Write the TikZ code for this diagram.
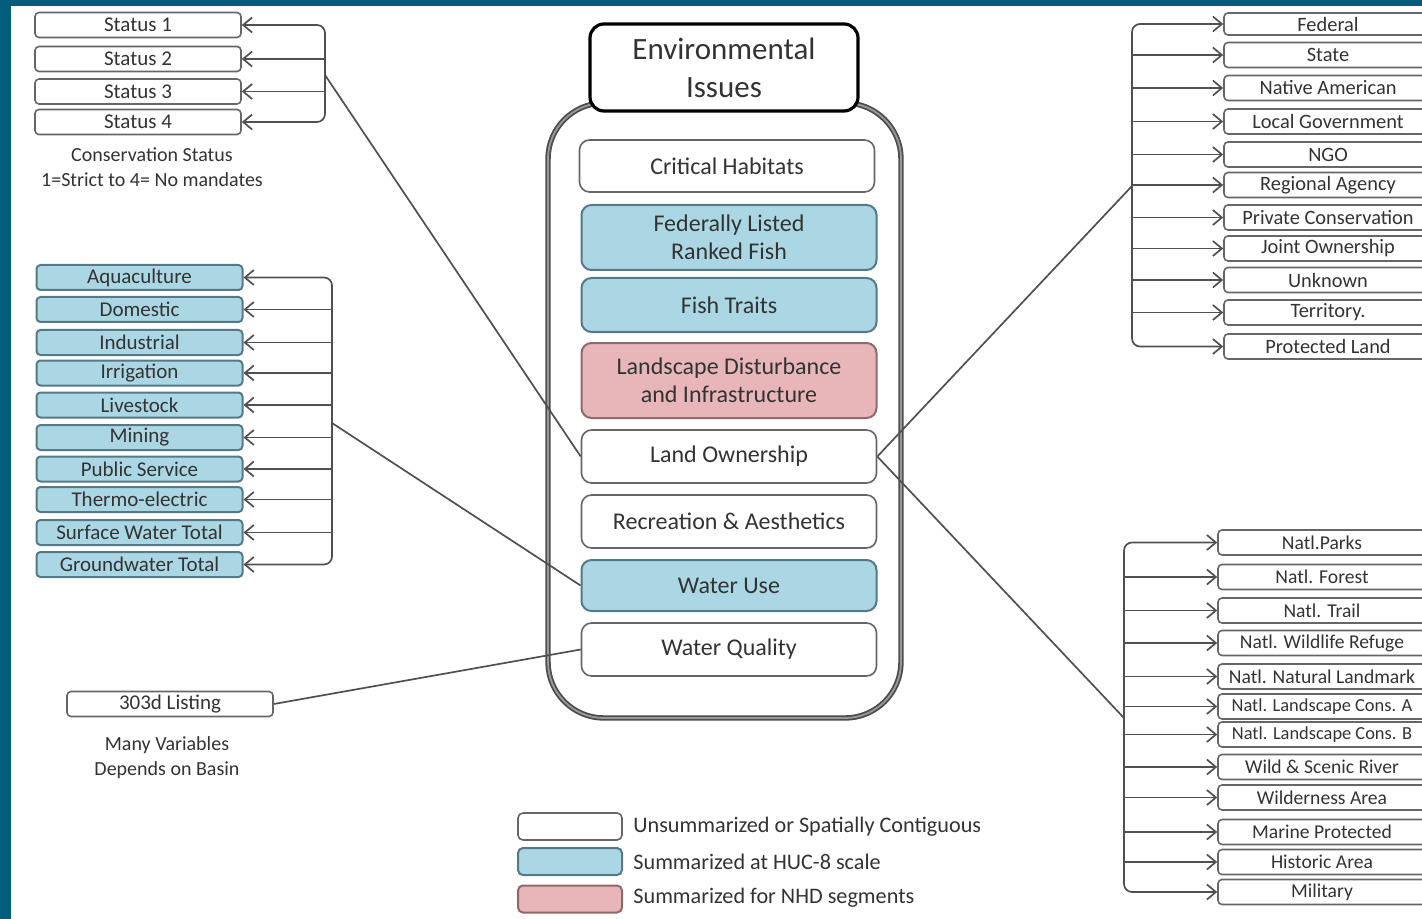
\documentclass[tikz,border=0pt]{standalone}
\usepackage{fontspec}
\setmainfont{Carlito}
\usetikzlibrary{arrows.meta}
\definecolor{frame}{HTML}{005E7B}
\definecolor{txt}{HTML}{333333}
\definecolor{bluef}{HTML}{ABD7E4}
\definecolor{blued}{HTML}{557985}
\definecolor{pinkf}{HTML}{E8B5B9}
\definecolor{pinkd}{HTML}{8E6A6C}
\definecolor{edge}{HTML}{666666}
\definecolor{lnk}{HTML}{505050}
\begin{document}
\begin{tikzpicture}[x=0.5pt,y=-0.5pt,
 every node/.style={text=txt, inner sep=0pt},
 base/.style={draw=edge, line width=0.8pt, fill=white, rounded corners=2pt, align=center},
 sbox/.style={base, minimum width=103pt, minimum height=12.5pt, font=\fontsize{10.5}{12}\selectfont},
 wbox/.style={sbox, fill=bluef, draw=blued, line width=1pt},
 rbox/.style={base, minimum width=104pt, minimum height=12.5pt, font=\fontsize{10.2}{12}\selectfont},
 nbox/.style={rbox, font=\fontsize{9.8}{12}\selectfont},
 cbox/.style={base, rounded corners=5pt, minimum width=147.5pt, font=\fontsize{12}{14}\selectfont},
 cblue/.style={cbox, fill=bluef, draw=blued, line width=1pt},
 cpink/.style={cbox, fill=pinkf, draw=pinkd, line width=1pt},
 conn/.style={draw=lnk, line width=0.85pt},
 arr/.style={conn, -{Straight Barb[length=4.5pt,width=7.5pt]}},
 barr/.style={conn, {Straight Barb[length=4.5pt,width=7.5pt]}-{Straight Barb[length=4.5pt,width=7.5pt]}, rounded corners=4pt},
 lbl/.style={align=center, font=\fontsize{10}{12.5}\selectfont},
 legbox/.style={base, rounded corners=2.5pt, minimum width=52pt, minimum height=13.5pt},
 legtxt/.style={anchor=west, font=\fontsize{11.1}{13}\selectfont},
]
\useasboundingbox (0,0) rectangle (1422,919);
\clip (0,0) rectangle (1422,919);
\fill[white] (0,0) rectangle (1422,919);
\fill[frame] (0,0) rectangle (11,919);
\fill[frame] (0,0) rectangle (1422,6);

% ---------- centre ----------
\node[draw=black!70, line width=0.9pt, double=black!40, double distance=0.9pt, rounded corners=28pt,
      minimum width=176.5pt, minimum height=307.5pt, fill=white] (cont) at (724.5,410.5) {};
\node[draw=black, line width=1.6pt, fill=white, rounded corners=7pt, minimum width=134pt, minimum height=43.5pt,
      align=center, font=\fontsize{15.5}{19}\selectfont] (title) at (724,67.5) {Environmental\\Issues};
\node[cbox, minimum height=26pt] (ch) at (727,166) {Critical Habitats};
\node[cblue, minimum height=32.5pt] (fl) at (729,237.5) {Federally Listed\\Ranked Fish};
\node[cblue, minimum height=27pt] (ft) at (729,305) {Fish Traits};
\node[cpink, minimum height=37.5pt] (ld) at (729,380.5) {Landscape Disturbance\\and Infrastructure};
\node[cbox, minimum height=26.5pt] (lo) at (729,456.5) {Land Ownership};
\node[cbox, minimum height=26.5pt] (re) at (729,521.5) {Recreation \& Aesthetics};
\node[cblue, minimum height=25.5pt] (wu) at (729,585.5) {Water Use};
\node[cbox, minimum height=26.5pt] (wq) at (729,649.5) {Water Quality};

% ---------- conservation status ----------
\node[sbox] (s1) at (138,25) {Status 1};
\node[sbox] (s2) at (138,59) {Status 2};
\node[sbox] (s3) at (138,91.5) {Status 3};
\node[sbox] (s4) at (138,122) {Status 4};
\node[lbl] (cs) at (152,167.5) {Conservation Status\\1=Strict to 4= No mandates};
\coordinate (sb) at (325,0);
\coordinate (sj) at (325,75);
\draw[barr] (s1.east) -| (s4.east -| sb) -- (s4.east);
\draw[arr] (s2.east -| sb) -- (s2.east);
\draw[arr] (s3.east -| sb) -- (s3.east);
\draw[conn] (sj) -- (lo.west);

% ---------- water use ----------
\node[wbox] (w1) at (139.5,277.5) {Aquaculture};
\node[wbox] (w2) at (139.5,309.5) {Domestic};
\node[wbox] (w3) at (139.5,342.5) {Industrial};
\node[wbox] (w4) at (139.5,373) {Irrigation};
\node[wbox] (w5) at (139.5,405) {Livestock};
\node[wbox] (w6) at (139.5,437.5) {Mining};
\node[wbox] (w7) at (139.5,469) {Public Service};
\node[wbox] (w8) at (139.5,499.5) {Thermo-electric};
\node[wbox] (w9) at (139.5,532.5) {Surface Water Total};
\node[wbox] (w10) at (139.5,564.5) {Groundwater Total};
\coordinate (wb) at (332,0);
\coordinate (wj) at (332,423);
\draw[barr] (w1.east) -| (w10.east -| wb) -- (w10.east);
\foreach \i in {2,...,9} {\draw[arr] (w\i.east -| wb) -- (w\i.east);}
\draw[conn] (wj) -- (wu.west);

% ---------- 303d ----------
\node[sbox] (l303) at (170,704) {303d Listing};
\node[lbl] (mv) at (167,757.5) {Many Variables\\Depends on Basin};
\draw[conn] (wq.west) -- (l303.east);

% ---------- land ownership ----------
\node[rbox, minimum height=11pt] (o1) at (1328,24) {Federal};
\node[rbox] (o2) at (1328,55) {State};
\node[rbox] (o3) at (1328,88) {Native American};
\node[rbox] (o4) at (1328,121.5) {Local Government};
\node[rbox] (o5) at (1328,154.5) {NGO};
\node[rbox] (o6) at (1328,185) {Regional Agency};
\node[rbox] (o7) at (1328,217.5) {Private Conservation};
\node[rbox] (o8) at (1328,248.5) {Joint Ownership};
\node[rbox] (o9) at (1328,280) {Unknown};
\node[rbox] (o10) at (1328,312.5) {Territory.};
\node[rbox] (o11) at (1328,346.5) {Protected Land};
\coordinate (ob) at (1132,0);
\coordinate (oj) at (1132,186);
\draw[barr] (o1.west) -| (o11.west -| ob) -- (o11.west);
\foreach \i in {2,...,10} {\draw[arr] (o\i.west -| ob) -- (o\i.west);}
\draw[conn] (lo.east) -- (oj);

% ---------- protected lands ----------
\node[nbox] (p1) at (1322,542.5) {Natl.Parks};
\node[nbox] (p2) at (1322,577) {Natl. Forest};
\node[nbox] (p3) at (1322,610.5) {Natl. Trail};
\node[nbox] (p4) at (1322,643) {Natl. Wildlife Refuge};
\node[nbox] (p5) at (1322,676.5) {Natl. Natural Landmark};
\node[nbox, font=\fontsize{9.2}{11}\selectfont] (p6) at (1322,706.5) {Natl. Landscape Cons. A};
\node[nbox, font=\fontsize{9.2}{11}\selectfont] (p7) at (1322,734.5) {Natl. Landscape Cons. B};
\node[nbox] (p8) at (1322,767) {Wild \& Scenic River};
\node[nbox] (p9) at (1322,797.5) {Wilderness Area};
\node[nbox] (p10) at (1322,832) {Marine Protected};
\node[nbox] (p11) at (1322,862) {Historic Area};
\node[nbox] (p12) at (1322,892) {Military};
\coordinate (pb) at (1124,0);
\coordinate (pj) at (1124,718);
\draw[barr] (p1.west) -| (p12.west -| pb) -- (p12.west);
\foreach \i in {2,...,11} {\draw[arr] (p\i.west -| pb) -- (p\i.west);}
\draw[conn] (lo.east) -- (pj);

% ---------- legend ----------
\node[legbox] (k1) at (570,826.5) {};
\node[legbox, fill=bluef, draw=blued, line width=1pt] (k2) at (570,861.5) {};
\node[legbox, fill=pinkf, draw=pinkd, line width=1pt] (k3) at (570,899) {};
\node[legtxt] (t1) at (633,826.5) {Unsummarized or Spatially Contiguous};
\node[legtxt] (t2) at (633,861.5) {Summarized at HUC-8 scale};
\node[legtxt] (t3) at (633,898) {Summarized for NHD segments};
\end{tikzpicture}
\end{document}
